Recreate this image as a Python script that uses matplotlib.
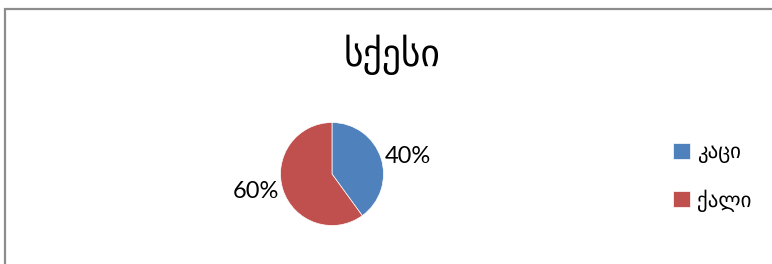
import matplotlib
matplotlib.use("Agg")
import matplotlib.pyplot as plt
from matplotlib.patches import Rectangle

title = "სქესი"
categories = ["კაცი", "ქალი"]
values = [40, 60]
colors = ["#4F81BD", "#C0504D"]
pct_labels = [f"{v}%" for v in values]

W, H = 772, 264
fig = plt.figure(figsize=(W / 100, H / 100), dpi=100)
fig.patch.set_facecolor("white")

# outer frame (top-left corner visible, rest beyond image)
fig.patches.append(Rectangle((5 / W, -0.2), 2.0, (H - 9) / H + 0.2,
                             transform=fig.transFigure, fill=False,
                             edgecolor="#8C8C8C", linewidth=1.6))

cx, cy, r = 332, 174, 51.5
ax = fig.add_axes([(cx - r) / W, (H - cy - r) / H, 2 * r / W, 2 * r / H])
wedges, texts = ax.pie(values, colors=colors, startangle=90, counterclock=False,
                       labels=pct_labels, labeldistance=1.08,
                       wedgeprops=dict(linewidth=0.5, edgecolor="white"),
                       textprops=dict(fontsize=17, family=["Lato", "DejaVu Sans"]))
ax.set_xlim(-1, 1)
ax.set_ylim(-1, 1)
ax.set_aspect("equal")
for t in texts:
    t.set_va("center")

fig.text(392 / W, 1 - 55 / H, title, ha="center", va="center",
         fontsize=27, family=["DejaVu Sans"])

fig.legend(wedges, categories, loc="center left",
           bbox_to_anchor=(673 / W, 1 - 177 / H), frameon=False,
           borderpad=0, borderaxespad=0,
           prop=dict(family=["DejaVu Sans"], size=15),
           handlelength=0.8, handleheight=0.8, handletextpad=0.35,
           labelspacing=1.25)

fig.savefig("out.png", dpi=100)
